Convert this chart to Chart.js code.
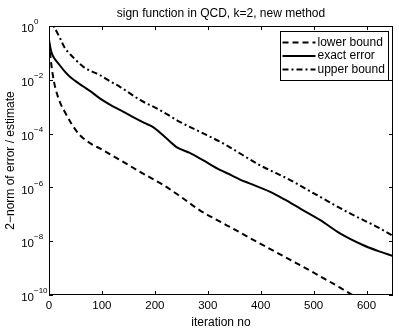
<!DOCTYPE html>
<html><head><meta charset="utf-8">
<script src="https://cdn.jsdelivr.net/npm/chart.js@4/dist/chart.umd.min.js"></script>
<style>html,body{margin:0;padding:0;background:#fff}#wrap{width:399px;height:328px}</style>
</head><body><div id="wrap"><canvas id="c" width="399" height="328"></canvas></div>
<script>
const chartTitle = 'sign function in QCD, k=2, new method';
const xTitle = 'iteration no';
const yTitle = '2\u2212norm of error / estimate';
const xTicks = [0, 100, 200, 300, 400, 500, 600];
const yTickExps = [0, -2, -4, -6, -8, -10];
const seriesLabels = ['lower bound', 'exact error', 'upper bound'];

const lowerIter = [0, 3, 7, 12, 21, 30, 43, 58, 83, 96, 134, 172, 215, 247, 285, 341, 398, 480, 530, 574, 650];
const lowerVal = [2.51e-1, 6.31e-2, 1.58e-2, 5.01e-3, 1.41e-3, 6.31e-4, 2.24e-4, 8.91e-5, 3.80e-5, 2.82e-5, 1.05e-5, 3.80e-6, 1.26e-6, 4.79e-7, 1.41e-7, 3.47e-8, 8.32e-9, 1.12e-9, 3.16e-10, 1.0e-10, 1.58e-11];

const exactIter = [0, 2, 5, 10, 20, 30, 40, 50, 65, 80, 96, 115, 134, 158, 180, 196, 215, 241, 266, 290, 323, 345, 360, 379, 417, 445, 474, 512, 549, 593, 620, 650];
const exactVal = [3.16e-1, 1.78e-1, 1.0e-1, 6.31e-2, 3.55e-2, 2.0e-2, 1.26e-2, 8.91e-3, 5.62e-3, 3.55e-3, 2.04e-3, 1.20e-3, 7.59e-4, 4.17e-4, 2.51e-4, 1.78e-4, 8.91e-5, 3.16e-5, 1.91e-5, 1.05e-5, 4.47e-6, 2.82e-6, 2.0e-6, 1.41e-6, 6.92e-7, 3.55e-7, 1.66e-7, 6.17e-8, 2.0e-8, 7.24e-9, 4.47e-9, 2.82e-9];

const upperIter = [0, 10, 20, 30, 40, 50, 65, 80, 96, 115, 134, 172, 209, 247, 285, 323, 341, 398, 455, 512, 568, 625, 650];
const upperVal = [2.0, 8.91e-1, 3.8e-1, 1.51e-1, 8.91e-2, 5.62e-2, 3.02e-2, 2.09e-2, 1.51e-2, 8.91e-3, 5.50e-3, 1.78e-3, 7.59e-4, 2.75e-4, 1.17e-4, 5.01e-5, 3.16e-5, 6.76e-6, 1.91e-6, 4.47e-7, 1.10e-7, 3.02e-8, 1.58e-8];

const FONT = '"Liberation Sans", Arial, Helvetica, sans-serif';
const pts = (xs, ys) => xs.map((x, i) => ({x: x, y: ys[i]}));

const decor = {
  id: 'decor',
  afterDatasetsDraw(chart) {
    const ctx = chart.ctx, a = chart.chartArea;
    const xs = chart.scales.x, ys = chart.scales.y;
    ctx.save();
    ctx.strokeStyle = '#000';
    ctx.lineWidth = 1;
    ctx.setLineDash([]);
    ctx.strokeRect(Math.round(a.left) + 0.5, Math.round(a.top) + 0.5, Math.round(a.right - a.left) - 1, Math.round(a.bottom - a.top) - 1);
    ctx.beginPath();
    xTicks.forEach(v => {
      const px = Math.round(xs.getPixelForValue(v)) + 0.5;
      ctx.moveTo(px, a.bottom); ctx.lineTo(px, a.bottom - 4);
      ctx.moveTo(px, a.top); ctx.lineTo(px, a.top + 4);
    });
    yTickExps.forEach(e => {
      const py = Math.round(ys.getPixelForValue(Math.pow(10, e))) + 0.5;
      ctx.moveTo(a.left, py); ctx.lineTo(a.left + 4, py);
      ctx.moveTo(a.right, py); ctx.lineTo(a.right - 4, py);
    });
    ctx.stroke();
    ctx.fillStyle = '#000';
    ctx.font = '11.5px ' + FONT;
    ctx.textAlign = 'center';
    ctx.textBaseline = 'middle';
    xTicks.forEach(v => {
      ctx.fillText(String(v), xs.getPixelForValue(v), a.bottom + 11);
    });
    yTickExps.forEach(e => {
      const py = ys.getPixelForValue(Math.pow(10, e));
      ctx.font = '11.5px ' + FONT;
      ctx.textAlign = 'right';
      ctx.fillText('10', a.left - 15, py + 3);
      ctx.font = '8px ' + FONT;
      ctx.textAlign = 'left';
      ctx.fillText(e === 0 ? '0' : '\u2212' + Math.abs(e), a.left - 15, py - 4);
    });
    ctx.font = '12px ' + FONT;
    ctx.textAlign = 'center';
    ctx.fillText(chartTitle, (a.left + a.right) / 2, 14);
    ctx.fillText(xTitle, (a.left + a.right) / 2, a.bottom + 28);
    ctx.save();
    ctx.translate(11, (a.top + a.bottom) / 2);
    ctx.rotate(-Math.PI / 2);
    ctx.fillText(yTitle, 0, 0);
    ctx.restore();
    const lx = 280.5, ly = 31.5, lw = 108, lh = 49;
    ctx.fillStyle = '#fff';
    ctx.fillRect(lx, ly, lw, lh);
    ctx.strokeRect(lx, ly, lw, lh);
    ctx.fillStyle = '#000';
    ctx.textAlign = 'left';
    chart.data.datasets.forEach((ds, i) => {
      const y = ly + 11 + i * 13.5;
      ctx.save();
      ctx.lineWidth = ds.borderWidth;
      ctx.setLineDash(ds.borderDash || []);
      ctx.beginPath();
      ctx.moveTo(lx + 2, y); ctx.lineTo(lx + 35, y);
      ctx.stroke();
      ctx.restore();
      ctx.fillText(ds.label, lx + 37, y);
    });
    ctx.restore();
  }
};

new Chart(document.getElementById('c'), {
  type: 'line',
  data: {
    datasets: [
      {label: seriesLabels[0], data: pts(lowerIter, lowerVal), borderColor: '#000', borderWidth: 2, borderDash: [6, 4], pointRadius: 0, fill: false, cubicInterpolationMode: 'monotone', clip: 0},
      {label: seriesLabels[1], data: pts(exactIter, exactVal), borderColor: '#000', borderWidth: 2, borderDash: [], pointRadius: 0, fill: false, cubicInterpolationMode: 'monotone', clip: 0},
      {label: seriesLabels[2], data: pts(upperIter, upperVal), borderColor: '#000', borderWidth: 2, borderDash: [6, 3, 2, 3], pointRadius: 0, fill: false, cubicInterpolationMode: 'monotone', clip: 0}
    ]
  },
  options: {
    responsive: false,
    animation: false,
    devicePixelRatio: 1,
    layout: {padding: {left: 0, top: 26, right: 6, bottom: 0}},
    plugins: {legend: {display: false}, title: {display: false}, tooltip: {enabled: false}},
    scales: {
      x: {type: 'linear', min: 0, max: 650, grid: {display: false}, border: {display: false},
          ticks: {display: false}, afterFit: s => { s.height = 33; }},
      y: {type: 'logarithmic', min: 1e-10, max: 1, grid: {display: false}, border: {display: false},
          ticks: {display: false}, afterFit: s => { s.width = 49; }}
    }
  },
  plugins: [decor]
});
</script>
</body></html>
